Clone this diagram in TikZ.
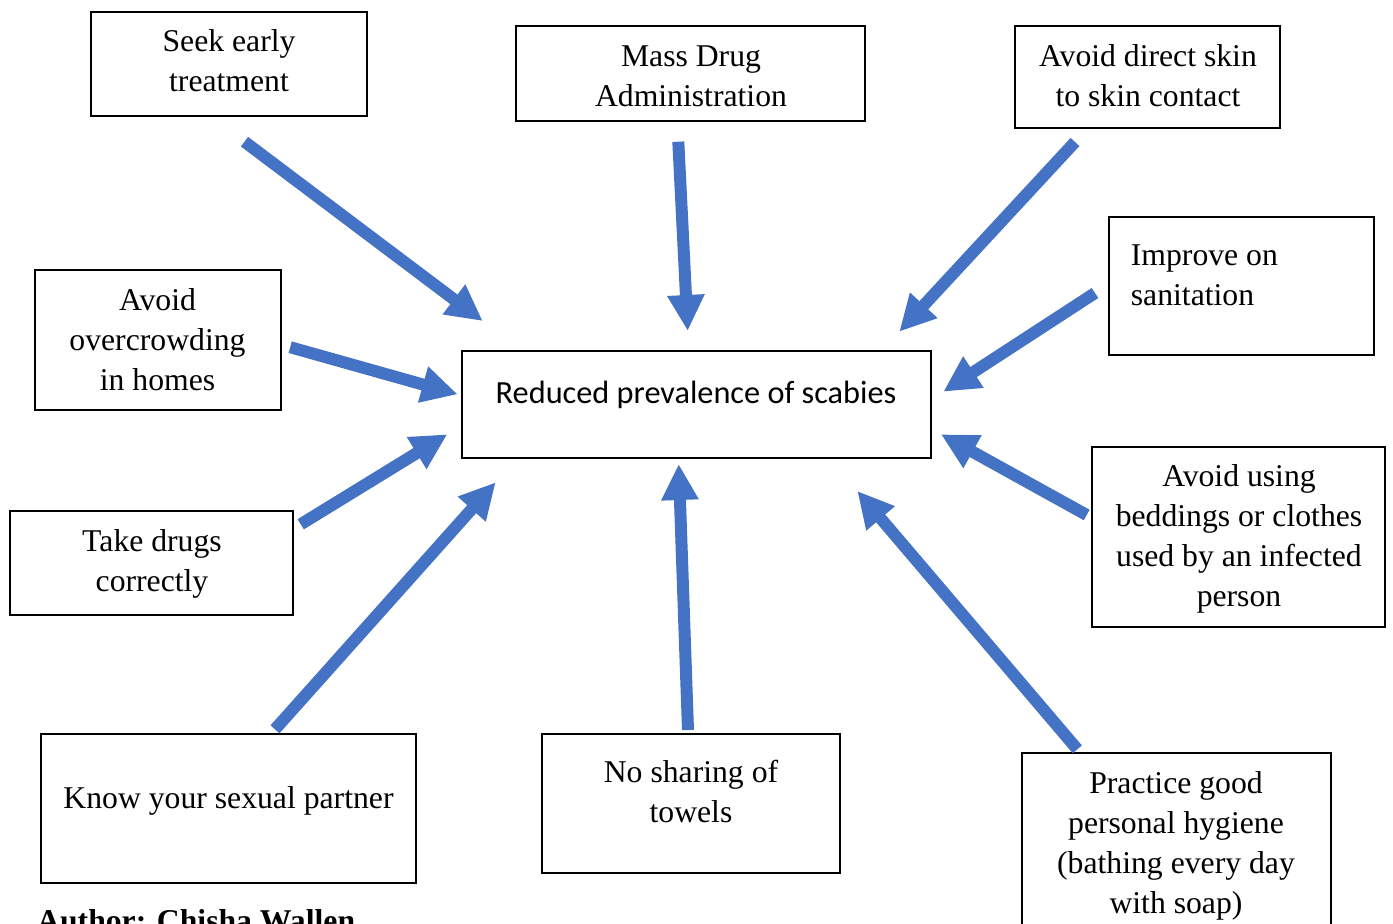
\documentclass[tikz,border=0pt]{standalone}
\usepackage{fontspec}
\setmainfont{Liberation Serif}
\newfontfamily\calfont{Carlito}
\usetikzlibrary{arrows.meta}
\definecolor{arrowblue}{HTML}{4472C4}
\begin{document}
\begin{tikzpicture}[x=1pt,y=-1pt,
  box/.style 2 args={draw=black, line width=2.2pt, inner sep=0pt, outer sep=0pt,
    anchor=north west, minimum width=#1, minimum height=#2},
  txt/.style={anchor=base, inner sep=0pt, font=\fontsize{31.7}{40}\selectfont},
  arr/.style={draw=arrowblue, line width=12pt, -{Triangle[length=36pt,width=35pt]}}]
\useasboundingbox (0,0) rectangle (1393,924);

% boxes
\node[box={276}{104}] (seek) at (91,12) {};
\node[box={349}{95}] (mass) at (516,26) {};
\node[box={265}{102}] (skin) at (1015,26) {};
\node[box={265}{138}] (sanit) at (1109,217) {};
\node[box={246}{140}] (crowd) at (35,270) {};
\node[box={469}{107}] (center) at (462,351) {};
\node[box={283}{104}] (drugs) at (10,511) {};
\node[box={293}{180}] (bedd) at (1092,447) {};
\node[box={375}{149}] (sex) at (41,734) {};
\node[box={298}{139}] (towel) at (542,734) {};
\node[box={309}{200}] (hyg) at (1022,753) {};

% texts
\node[txt] (seekT) at (229,51.7) {\begin{tabular}[t]{@{}c@{}}Seek early\\treatment\end{tabular}};
\node[txt] (massT) at (691,66) {\begin{tabular}[t]{@{}c@{}}Mass Drug\\Administration\end{tabular}};
\node[txt] (skinT) at (1148,66) {\begin{tabular}[t]{@{}c@{}}Avoid direct skin\\to skin contact\end{tabular}};
\node[txt, anchor=base west] (sanitT) at (1130.7,265) {\begin{tabular}[t]{@{}l@{}}Improve on\\sanitation\end{tabular}};
\node[txt] (crowdT) at (157.5,310) {\begin{tabular}[t]{@{}c@{}}Avoid\\overcrowding\\in homes\end{tabular}};
\node[txt, font=\calfont\fontsize{32.3}{40}\selectfont] (centerT) at (696,403) {Reduced prevalence of scabies};
\node[txt] (drugsT) at (152,551) {\begin{tabular}[t]{@{}c@{}}Take drugs\\correctly\end{tabular}};
\node[txt] (beddT) at (1239,486.7) {\begin{tabular}[t]{@{}c@{}}Avoid using\\beddings or clothes\\used by an infected\\person\end{tabular}};
\node[txt] (sexT) at (228.5,808) {Know your sexual partner};
\node[txt] (towelT) at (691,782) {\begin{tabular}[t]{@{}c@{}}No sharing of\\towels\end{tabular}};
\node[txt] (hygT) at (1176,793) {\begin{tabular}[t]{@{}c@{}}Practice good\\personal hygiene\\(bathing every day\\with soap)\end{tabular}};
\node[anchor=base west, inner sep=0pt, font=\bfseries\fontsize{31.7}{40}\selectfont] (author) at (37,931) {Author: Chisha Wallen};

% arrow end points
\coordinate (seekA) at (244.5,141.7);   \coordinate (seekB) at (482.7,321);
\coordinate (massA) at (678.3,141.7);   \coordinate (massB) at (687.7,331);
\coordinate (skinA) at (1075,142);      \coordinate (skinB) at (899.3,331.7);
\coordinate (sanitA) at (1095,293);     \coordinate (sanitB) at (943.3,391.7);
\coordinate (crowdA) at (290.2,347.2);  \coordinate (crowdB) at (457.7,394.3);
\coordinate (drugsA) at (300.7,524.3);  \coordinate (drugsB) at (447.3,434.3);
\coordinate (sexA) at (275,729.3);      \coordinate (sexB) at (495.7,482.3);
\coordinate (towelA) at (688,730);      \coordinate (towelB) at (678.7,464);
\coordinate (hygA) at (1077.3,749.3);   \coordinate (hygB) at (857.3,491);
\coordinate (beddA) at (1086.7,515);    \coordinate (beddB) at (941,434.3);

\draw[arr] (seekA) -- (seekB);
\draw[arr] (massA) -- (massB);
\draw[arr] (skinA) -- (skinB);
\draw[arr] (sanitA) -- (sanitB);
\draw[arr] (crowdA) -- (crowdB);
\draw[arr] (drugsA) -- (drugsB);
\draw[arr] (sexA) -- (sexB);
\draw[arr] (towelA) -- (towelB);
\draw[arr] (hygA) -- (hygB);
\draw[arr] (beddA) -- (beddB);
\end{tikzpicture}
\end{document}
